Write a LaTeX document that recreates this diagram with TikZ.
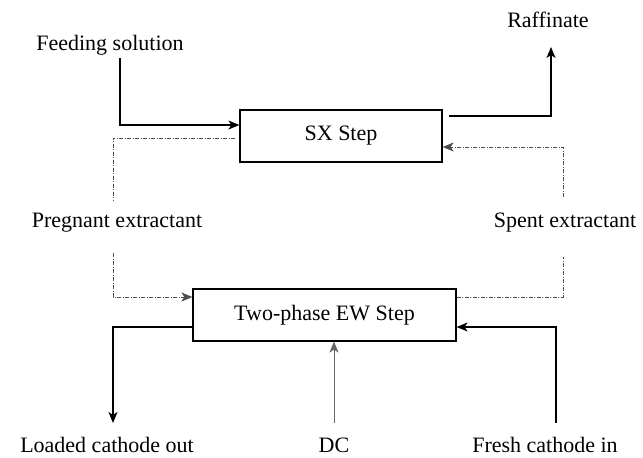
\documentclass[tikz,border=0pt]{standalone}
\usepackage{fontspec}
\setmainfont{Liberation Serif}
\usetikzlibrary{arrows.meta}
\tikzset{
  label/.style = {inner sep=0pt, anchor=base, font=\fontsize{22}{26}\selectfont},
  stepbox/.style = {rectangle, draw=black, line width=1.2pt, inner sep=0pt,
    font=\fontsize{22}{26}\selectfont, minimum height=52pt},% process step
  flow/.style = {->, black, line width=1.3pt},
  solvent/.style = {black!70, line width=0.9pt,
    dash pattern=on 4pt off 1.5pt on 1pt off 1.5pt},% organic phase
  power/.style = {->, black!60, line width=0.9pt},
}

\begin{document}
\begin{tikzpicture}[x=1pt,y=-1pt,>={Stealth[length=11pt,width=9pt,inset=3pt]}]
  \useasboundingbox (0,0) rectangle (643,458);

  \node[stepbox, minimum width=202pt] (sx) at (341,136) {SX Step};
  \node[stepbox, minimum width=263pt] (ew) at (324.5,315) {Two-phase EW Step};

  \node[label] (feed) at (110,50) {Feeding solution};
  \node[label] (raff) at (548,27) {Raffinate};
  \node[label] (preg) at (117,227) {Pregnant extractant};
  \node[label] (spent) at (565,227) {Spent extractant};
  \node[label] (loaded) at (107,452) {Loaded cathode out};
  \node[label] (dc) at (334,452) {DC};
  \node[label] (fresh) at (545,452) {Fresh cathode in};

  % aqueous side
  \draw[flow] ([xshift=10pt,yshift=-8pt]feed.base) |- ([yshift=11pt]sx.west);
  \draw[flow] ([xshift=6pt,yshift=20pt]sx.east) -| ([xshift=3pt,yshift=-20pt]raff.base);
  % organic loop
  \draw[solvent] ([xshift=-4pt,yshift=-2pt]sx.west) -| ([xshift=-4pt,yshift=27pt]preg.base);
  \draw[solvent,->] ([xshift=-4pt,yshift=-26pt]preg.base) |- ([yshift=18pt]ew.west);
  \draw[solvent] ([yshift=18pt]ew.east) -| ([xshift=-2pt,yshift=-30pt]spent.base);
  \draw[solvent,->] ([xshift=-2pt,yshift=30pt]spent.base) |- ([yshift=-11pt]sx.east);
  % cathodes and power
  \draw[flow] ([yshift=-12pt]ew.west) -| ([xshift=6pt,yshift=29pt]loaded.base);
  \draw[flow] ([xshift=11pt,yshift=29pt]fresh.base) |- ([yshift=-12pt]ew.east);
  \draw[power] ([yshift=29pt]dc.base) -- (dc |- ew.south);
\end{tikzpicture}
\end{document}
